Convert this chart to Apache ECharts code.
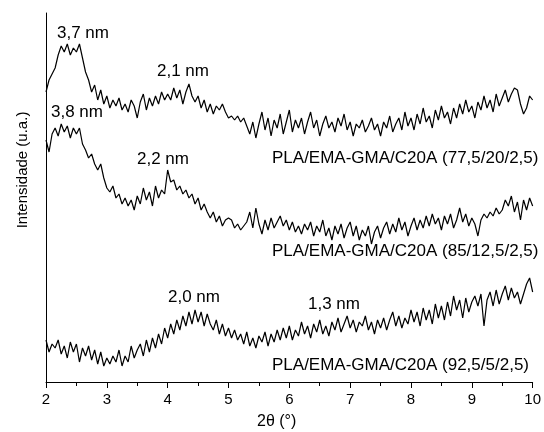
<!DOCTYPE html>
<html>
<head>
<meta charset="utf-8">
<title>DRX PLA/EMA-GMA/C20A</title>
<script src="https://cdn.jsdelivr.net/npm/echarts@6/dist/echarts.min.js"></script>
<style>
  html, body { margin: 0; padding: 0; background: #fff; }
  #chart { width: 544px; height: 432px; }
</style>
</head>
<body>
<div id="chart"></div>
<script>
// 2theta scan: from 2 to 10 deg, step 0.05
var thetaStart = 2;
var thetaStep = 0.05;

// intensities (u.a.)
var s775 = [
  290,302,308,314,327,336,330,338,327,334,330,338,324,310,302,290,297,282,292,278,
  286,274,282,276,284,272,278,270,282,276,264,280,288,272,284,276,286,278,290,282,
  288,282,294,284,292,278,290,298,286,280,286,274,282,270,278,268,276,272,278,270,
  264,266,262,266,260,264,256,248,260,244,258,270,252,264,246,262,254,268,248,260,
  272,250,262,254,264,248,260,270,254,262,246,258,266,254,260,250,264,256,268,252,
  260,246,258,254,262,250,256,264,252,258,246,260,254,266,250,258,264,252,270,256,
  264,252,268,258,274,260,266,254,272,262,276,264,270,258,274,264,278,268,282,270,
  276,264,280,272,286,274,282,270,288,276,284,292,280,288,294,292,278,268,274,286,
  282
];
var s85 = [
  242,230,248,254,246,258,250,256,244,254,248,254,238,232,224,228,218,212,218,204,
  194,190,196,184,188,178,184,176,182,172,186,178,194,182,190,176,196,184,192,188,
  212,200,202,192,196,188,192,184,188,178,184,172,178,170,164,170,160,166,156,162,
  164,162,154,158,152,156,160,170,154,174,158,148,162,152,164,154,160,166,156,162,
  152,160,150,156,148,158,152,160,146,156,150,162,146,154,142,156,148,158,144,154,
  160,146,156,142,152,146,156,138,150,156,144,154,160,148,158,150,164,152,160,146,
  156,164,152,162,154,166,156,168,158,164,152,166,158,168,154,162,174,160,168,156,
  164,158,146,162,168,164,170,166,174,168,172,182,176,186,170,180,162,182,172,184,
  176
];
var s925 = [
  42,30,38,34,42,28,36,24,40,30,38,20,34,26,36,22,32,18,30,16,
  24,18,26,20,32,16,26,20,36,24,32,38,26,42,30,44,34,48,38,54,
  44,58,48,62,52,66,56,70,58,72,60,70,56,68,58,52,62,48,58,46,
  54,44,52,42,48,38,50,36,44,34,46,40,50,36,48,40,52,42,54,44,
  56,42,52,46,60,48,56,44,58,50,62,48,56,46,60,52,64,50,58,66,
  54,62,50,60,56,66,52,60,48,62,54,64,52,62,70,56,66,54,64,58,
  72,60,70,56,74,62,72,58,78,64,76,62,80,66,86,72,82,64,84,70,
  80,86,76,88,56,82,90,76,92,78,88,96,82,94,84,90,78,88,98,104,
  90
];
var xTicks = [2, 3, 4, 5, 6, 7, 8, 9, 10];

function toPairs(arr) {
  var out = [];
  for (var i = 0; i < arr.length; i++) {
    out.push([+(thetaStart + i * thetaStep).toFixed(2), arr[i]]);
  }
  return out;
}

var myChart = echarts.init(document.getElementById('chart'));
var font = '"Liberation Sans", Arial, sans-serif';

// text label, x = left edge, y = vertical centre
function lbl(text, x, y, size) {
  return {
    type: 'text', x: x, y: y,
    style: { text: text, fill: '#000', font: (size || 17) + 'px ' + font, align: 'left', verticalAlign: 'middle' }
  };
}

var lineStyle = { color: '#000', width: 1.2 };

var option = {
  animation: false,
  backgroundColor: '#fff',
  grid: { left: 46, right: 10, top: 13, bottom: 50 },
  xAxis: {
    type: 'value',
    min: xTicks[0],
    max: xTicks[xTicks.length - 1],
    interval: 1,
    axisLine: { lineStyle: { color: '#000', width: 1 } },
    axisTick: { show: true, inside: false, length: 6, lineStyle: { color: '#000' } },
    minorTick: { show: true, splitNumber: 2, length: 4, lineStyle: { color: '#000' } },
    axisLabel: { color: '#000', fontSize: 15, fontFamily: font, margin: 10 },
    splitLine: { show: false }
  },
  yAxis: {
    type: 'value',
    min: 0,
    max: 369,
    axisLine: { show: true, lineStyle: { color: '#000', width: 1 } },
    axisTick: { show: false },
    axisLabel: { show: false },
    splitLine: { show: false }
  },
  series: [
    { name: '77,5/20/2,5', type: 'line', data: toPairs(s775), showSymbol: false, symbol: 'none', lineStyle: lineStyle },
    { name: '85/12,5/2,5', type: 'line', data: toPairs(s85), showSymbol: false, symbol: 'none', lineStyle: lineStyle },
    { name: '92,5/5/2,5', type: 'line', data: toPairs(s925), showSymbol: false, symbol: 'none', lineStyle: lineStyle }
  ],
  graphic: [
    lbl('3,7 nm', 57, 33),
    lbl('2,1 nm', 157, 71),
    lbl('3,8 nm', 51, 112),
    lbl('2,2 nm', 137, 159),
    lbl('PLA/EMA-GMA/C20A (77,5/20/2,5)', 272, 158),
    lbl('PLA/EMA-GMA/C20A (85/12,5/2,5)', 272, 251),
    lbl('2,0 nm', 168, 297),
    lbl('1,3 nm', 308, 304),
    lbl('PLA/EMA-GMA/C20A (92,5/5/2,5)', 272, 365),
    lbl('2θ (°)', 257, 422, 16),
    {
      type: 'text', x: 23, y: 170, rotation: Math.PI / 2,
      style: { text: 'Intensidade (u.a.)', fill: '#000', font: '15px ' + font, align: 'center', verticalAlign: 'middle' }
    }
  ]
};
myChart.setOption(option);
</script>
</body>
</html>
